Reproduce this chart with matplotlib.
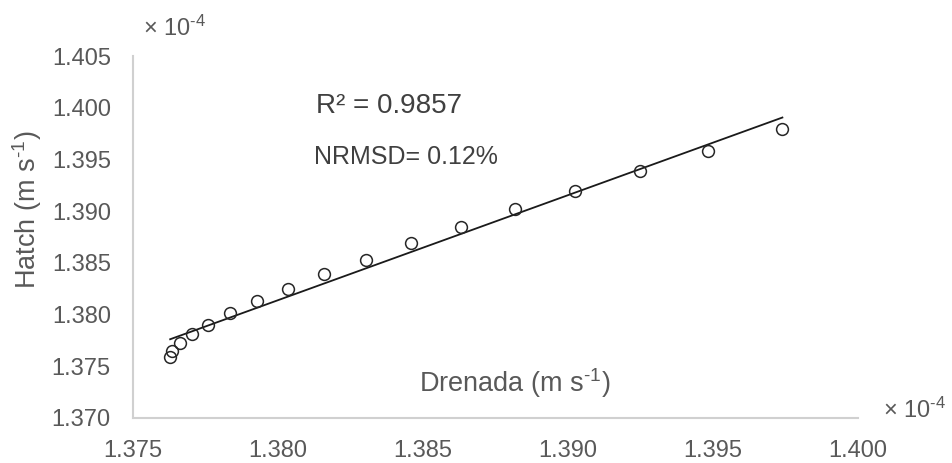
import numpy as np
import matplotlib
matplotlib.use("Agg")
import matplotlib.pyplot as plt

# valores en unidades de 1e-4 m/s
drenada = [1.37628, 1.37634, 1.37662, 1.37704, 1.37760, 1.37834, 1.37928, 1.38034,
           1.38159, 1.38302, 1.38458, 1.38631, 1.38817, 1.39024, 1.39248, 1.39483, 1.39739]
hatch = [1.37590, 1.37643, 1.37722, 1.37812, 1.37899, 1.38015, 1.38132, 1.38252,
         1.38393, 1.38528, 1.38690, 1.38850, 1.39021, 1.39198, 1.39389, 1.39582, 1.39790]
x_ticks = [1.375, 1.380, 1.385, 1.390, 1.395, 1.400]
y_ticks = [1.370, 1.375, 1.380, 1.385, 1.390, 1.395, 1.400, 1.405]

plt.rcParams['font.family'] = ['Liberation Sans', 'DejaVu Sans']
plt.rcParams['mathtext.fontset'] = 'custom'
plt.rcParams['mathtext.rm'] = 'Liberation Sans'
plt.rcParams['mathtext.it'] = 'Liberation Sans:italic'
plt.rcParams['mathtext.default'] = 'regular'

gris = '#595959'
guion = '\u2010'  # guion corto en los exponentes

fig = plt.figure(figsize=(9.53, 4.63), dpi=100)
ax = fig.add_axes([0.1396, 0.0972, 0.7608, 0.7818])

x = np.array(drenada)
y = np.array(hatch)
ax.plot(x, y, 'o', markerfacecolor='none', markeredgecolor='#262626',
        markersize=8.5, markeredgewidth=1.1, zorder=3)

# linea de tendencia
m, b = np.polyfit(x, y, 1)
xt = np.array([x.min(), x.max()])
ax.plot(xt, m * xt + b, color='#1a1a1a', lw=1.3, zorder=2)

ax.set_xlim(1.375, 1.400)
ax.set_ylim(1.370, 1.405)
ax.set_xticks(x_ticks)
ax.set_yticks(y_ticks)
ax.set_xticklabels([f'{v:.3f}' for v in x_ticks])
ax.set_yticklabels([f'{v:.3f}' for v in y_ticks])
ax.tick_params(length=0, labelsize=17, colors=gris)
ax.tick_params(axis='y', pad=16)
ax.tick_params(axis='x', pad=16)

for s in ['top', 'right']:
    ax.spines[s].set_visible(False)
for s in ['left', 'bottom']:
    ax.spines[s].set_color('#d0d0d0')
    ax.spines[s].set_linewidth(1.5)

ax.text(0.527, 0.097, 'Drenada (m s$^{' + guion + '1}$)', transform=ax.transAxes,
        ha='center', va='center', fontsize=19.5, color=gris)
fig.text(27.5 / 953, 1 - 210 / 463, 'Hatch (m s$^{' + guion + '1}$)', rotation=90,
         ha='center', va='center', fontsize=19.5, color=gris)

ax.text(0.252, 0.862, 'R² = 0.9857', transform=ax.transAxes,
        ha='left', va='center', fontsize=20, color='#404040')
ax.text(0.249, 0.721, 'NRMSD= 0.12%', transform=ax.transAxes,
        ha='left', va='center', fontsize=18, color='#404040')

fig.text(143 / 953, 1 - 28 / 463, '× 10$^{' + guion + '4}$', ha='left', va='center',
         fontsize=17, color=gris)
fig.text(883 / 953, 1 - 410 / 463, '× 10$^{' + guion + '4}$', ha='left', va='center',
         fontsize=17, color=gris)

fig.savefig('out.png', dpi=100)
